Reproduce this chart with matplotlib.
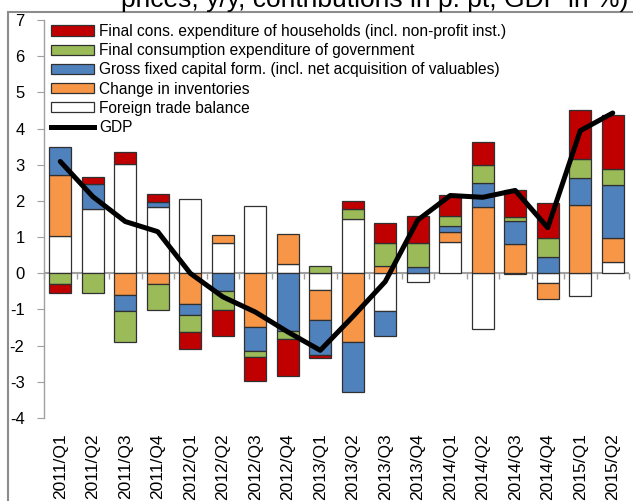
import numpy as np
import matplotlib
matplotlib.use("Agg")
import matplotlib.pyplot as plt
from matplotlib import font_manager
from matplotlib.patches import Patch, Rectangle
from matplotlib.lines import Line2D

# Daten (Beiträge in Prozentpunkten)
quartale = ["2011/Q1", "2011/Q2", "2011/Q3", "2011/Q4", "2012/Q1", "2012/Q2",
            "2012/Q3", "2012/Q4", "2013/Q1", "2013/Q2", "2013/Q3", "2013/Q4",
            "2014/Q1", "2014/Q2", "2014/Q3", "2014/Q4", "2015/Q1", "2015/Q2"]
aussenhandel = [1.03, 1.78, 3.01, 1.82, 2.05, 0.83, 1.86, 0.25, -0.45, 1.51,
                -1.05, -0.23, 0.87, -1.55, -0.02, -0.26, -0.62, 0.30]
vorraete = [1.68, 0.0, -0.61, -0.29, -0.86, 0.22, -1.48, 0.83, -0.83, -1.90,
            0.20, 0.0, 0.28, 1.82, 0.80, -0.44, 1.89, 0.68]
investitionen = [0.79, 0.69, -0.42, 0.16, -0.30, -0.48, -0.67, -1.60, -0.99, -1.38,
                 -0.68, 0.16, 0.16, 0.67, 0.64, 0.44, 0.75, 1.45]
staat = [-0.30, -0.55, -0.88, -0.73, -0.45, -0.54, -0.16, -0.23, 0.20, 0.28,
         0.63, 0.67, 0.27, 0.51, 0.11, 0.54, 0.53, 0.46]
haushalte = [-0.25, 0.18, 0.35, 0.21, -0.47, -0.70, -0.66, -1.00, -0.06, 0.22,
             0.57, 0.75, 0.57, 0.63, 0.74, 0.96, 1.35, 1.49]
bip = [3.09, 2.12, 1.43, 1.15, 0.0, -0.65, -1.07, -1.62, -2.13, -1.20,
       -0.23, 1.47, 2.15, 2.10, 2.29, 1.26, 3.94, 4.43]

namen = ["Foreign trade balance",
         "Change in inventories",
         "Gross fixed capital form. (incl. net acquisition of valuables)",
         "Final consumption expenditure of government",
         "Final cons. expenditure of households (incl. non-profit inst.)"]
farben = ["white", "#F79646", "#4F81BD", "#9BBB59", "#C00000"]

vorhandene = {f.name for f in font_manager.fontManager.ttflist}
schrift = "Liberation Sans" if "Liberation Sans" in vorhandene else "DejaVu Sans"
plt.rcParams["font.family"] = [schrift, "DejaVu Sans"]

fig = plt.figure(figsize=(6.33, 5.01), dpi=100)
ax = fig.add_axes([44 / 633, 1 - 418 / 501, 585 / 633, 398 / 501])

x = np.arange(len(quartale))
pos_boden = np.zeros(len(x))
neg_boden = np.zeros(len(x))
for werte, farbe in zip([aussenhandel, vorraete, investitionen, staat, haushalte], farben):
    v = np.array(werte)
    boden = np.where(v >= 0, pos_boden, neg_boden)
    m = v != 0
    ax.bar(x[m], v[m], bottom=boden[m], width=0.68, color=farbe,
           edgecolor="#303030", linewidth=0.9, zorder=2)
    pos_boden += np.clip(v, 0, None)
    neg_boden += np.clip(v, None, 0)

ax.plot(x, bip, color="black", linewidth=3.6, solid_joinstyle="round",
        solid_capstyle="round", zorder=3)

# Achsen
ax.set_xlim(-0.5, len(x) - 0.5)
ax.set_ylim(-4, 7)
ax.set_yticks(range(-4, 8))
ax.set_yticklabels([str(i) for i in range(-4, 8)])
for s in ["top", "right", "bottom"]:
    ax.spines[s].set_visible(False)
ax.spines["left"].set_color("#A0A0A0")
ax.spines["left"].set_linewidth(1.0)
ax.tick_params(axis="y", direction="out", length=5, color="#A0A0A0",
               labelsize=12, pad=9)
ax.set_xticks(x)
ax.set_xticklabels(quartale, rotation=90, va="top", ha="center")
ax.tick_params(axis="x", length=0, labelsize=12.5, pad=11)

# Nulllinie mit Teilstrichen
ax.axhline(0, color="#A0A0A0", linewidth=1.5, zorder=1)
null = ax.secondary_xaxis(4 / 11)
null.set_xticks(np.arange(len(x) + 1) - 0.5)
null.set_xticklabels([])
null.tick_params(length=4, color="#A0A0A0", width=1)
null.spines["bottom"].set_visible(False)

# Legende
griffe = [Patch(facecolor=farben[i], edgecolor="#303030", linewidth=0.9)
          for i in range(4, -1, -1)]
griffe.append(Line2D([], [], color="black", linewidth=3.6))
beschriftung = [namen[i] for i in range(4, -1, -1)] + ["GDP"]
ax.legend(griffe, beschriftung, loc="upper left", bbox_to_anchor=(0.012, 0.99),
          frameon=False, fontsize=11.2, handlelength=2.75, handleheight=0.62,
          handletextpad=0.32, labelspacing=0.27, borderpad=0, borderaxespad=0)

# Rahmen und abgeschnittener Titel
fig.patches.append(Rectangle((8 / 633, -0.1), 1.2, 1 - 12 / 501 + 0.1,
                             transform=fig.transFigure, fill=False,
                             edgecolor="#8C8C8C", linewidth=1.5))
fig.text(628 / 633, 1 - 7.5 / 501, "prices, y/y, contributions in p. pt, GDP in %)",
         ha="right", va="baseline", fontsize=19)

fig.savefig("out.png", dpi=100)
